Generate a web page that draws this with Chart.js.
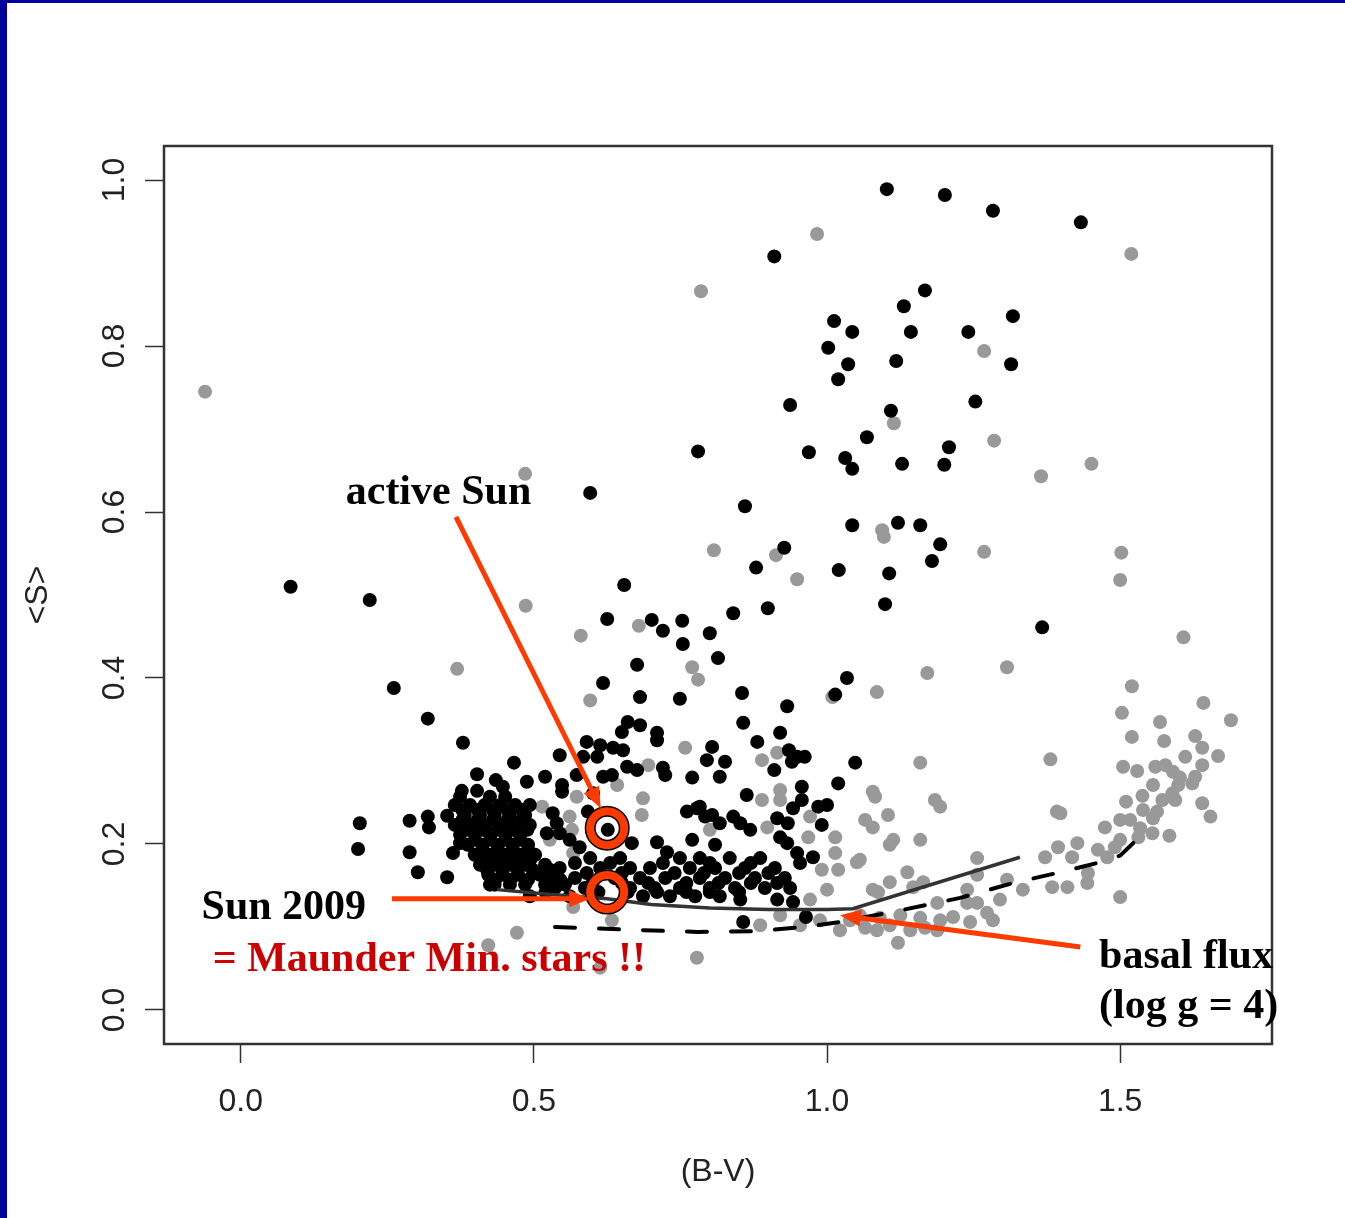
<!DOCTYPE html>
<html>
<head>
<meta charset="utf-8">
<script src="https://cdn.jsdelivr.net/npm/chart.js@4.4.0/dist/chart.umd.min.js"></script>
<style>
html, body { margin: 0; padding: 0; background: #fff; }
canvas { display: block; }
</style>
</head>
<body>
<canvas id="myChart" width="1345" height="1218"></canvas>
<script>
// ---- data: (B-V, <S>) ----
// active stars (black dots)
var activeStars = [
  [1.102,0.989],[1.201,0.982],[1.283,0.963],[1.433,0.949],[0.910,0.908],[1.167,0.867],[1.131,0.848],[1.317,0.836],
  [1.012,0.830],[1.043,0.817],[1.143,0.817],[1.241,0.817],[1.002,0.798],[1.314,0.778],[1.036,0.778],[1.118,0.782],
  [1.019,0.760],[0.937,0.729],[1.109,0.722],[1.253,0.733],[1.068,0.690],[0.780,0.673],[0.969,0.672],[1.031,0.665],
  [1.043,0.652],[1.128,0.658],[1.208,0.678],[1.200,0.657],[0.596,0.623],[0.860,0.607],[1.043,0.584],[1.121,0.587],
  [1.159,0.584],[1.193,0.561],[1.179,0.541],[0.927,0.557],[0.879,0.533],[1.020,0.530],[1.106,0.526],[0.654,0.512],
  [1.099,0.489],[0.625,0.471],[0.701,0.470],[0.753,0.469],[0.840,0.478],[0.899,0.484],[1.367,0.461],[0.085,0.510],
  [0.220,0.494],[0.720,0.457],[0.800,0.454],[0.754,0.441],[0.676,0.416],[0.814,0.424],[0.618,0.394],[0.681,0.377],
  [0.749,0.375],[0.855,0.382],[0.932,0.366],[1.014,0.380],[1.034,0.400],[0.261,0.388],[0.319,0.351],[0.379,0.322],
  [0.857,0.346],[0.920,0.334],[0.881,0.323],[0.804,0.317],[0.795,0.301],[0.826,0.299],[0.817,0.281],[0.935,0.313],
  [0.949,0.305],[0.962,0.305],[0.940,0.299],[0.910,0.289],[1.048,0.298],[1.019,0.273],[0.957,0.269],[0.863,0.259],
  [0.957,0.253],[0.942,0.243],[0.985,0.245],[1.000,0.247],[0.783,0.245],[0.804,0.235],[0.817,0.225],[0.840,0.233],
  [0.852,0.225],[0.869,0.217],[0.915,0.231],[0.933,0.225],[0.991,0.223],[0.920,0.208],[0.932,0.201],[0.976,0.184],
  [0.949,0.189],[0.954,0.177],[0.852,0.133],[0.915,0.133],[0.942,0.130],[0.857,0.106],[0.964,0.112],
  [0.660,0.347],[0.681,0.343],[0.650,0.335],[0.710,0.334],[0.710,0.325],[0.590,0.323],[0.613,0.319],[0.635,0.316],
  [0.584,0.305],[0.608,0.305],[0.652,0.313],[0.544,0.307],[0.659,0.293],[0.676,0.289],[0.720,0.292],[0.724,0.283],
  [0.519,0.281],[0.548,0.271],[0.548,0.263],[0.573,0.283],[0.618,0.281],[0.633,0.283],[0.770,0.280],[0.601,0.261],
  [0.592,0.239],[0.532,0.237],[0.539,0.225],[0.626,0.217],[0.761,0.239],[0.778,0.243],[0.792,0.233],[0.522,0.213],
  [0.544,0.213],[0.710,0.202],[0.727,0.190],[0.770,0.205],[0.667,0.201],[0.578,0.196],[0.561,0.205],[0.809,0.199],
  [0.466,0.298],[0.403,0.284],[0.435,0.277],[0.447,0.269],[0.488,0.275],[0.377,0.264],[0.403,0.264],[0.288,0.228],
  [0.319,0.233],[0.321,0.220],[0.352,0.234],[0.288,0.190],[0.302,0.166],[0.352,0.160],[0.374,0.201],[0.362,0.189],
  [0.425,0.151],[0.203,0.225],[0.200,0.194]
];
// dense clump of active stars around B-V 0.4-0.55
var activeClump = [
  [0.374,0.257],[0.425,0.257],[0.451,0.257],
  [0.365,0.247],[0.391,0.247],[0.416,0.247],[0.442,0.247],[0.468,0.247],[0.493,0.247],
  [0.378,0.241],[0.404,0.241],[0.430,0.241],[0.455,0.241],[0.480,0.241],
  [0.382,0.235],[0.408,0.235],[0.433,0.235],[0.459,0.235],[0.485,0.235],
  [0.378,0.229],[0.404,0.229],[0.430,0.229],[0.455,0.229],[0.480,0.229],
  [0.365,0.223],[0.391,0.223],[0.416,0.223],[0.442,0.223],[0.468,0.223],[0.493,0.223],
  [0.386,0.217],[0.412,0.217],[0.438,0.217],[0.463,0.217],[0.489,0.217],
  [0.374,0.211],[0.399,0.211],[0.425,0.211],[0.451,0.211],[0.476,0.211],
  [0.400,0.205],[0.426,0.205],[0.452,0.205],[0.477,0.205],
  [0.387,0.199],[0.413,0.199],[0.439,0.199],[0.464,0.199],[0.490,0.199],
  [0.412,0.193],[0.438,0.193],[0.464,0.193],[0.490,0.193],
  [0.399,0.187],[0.425,0.187],[0.451,0.187],[0.476,0.187],[0.502,0.187],
  [0.416,0.181],[0.442,0.181],[0.468,0.181],[0.494,0.181],
  [0.408,0.175],[0.433,0.175],[0.459,0.175],[0.485,0.175],[0.519,0.175],
  [0.420,0.169],[0.446,0.169],[0.472,0.169],[0.498,0.169],[0.527,0.169],
  [0.422,0.163],[0.447,0.163],[0.473,0.163],[0.510,0.163],[0.536,0.163],
  [0.434,0.157],[0.460,0.157],[0.490,0.157],[0.525,0.157],[0.545,0.157],
  [0.433,0.151],[0.459,0.151],[0.485,0.151],[0.519,0.151],[0.553,0.151]
];
// low-activity band of dwarfs, B-V 0.5-0.95
var activeBand = [
  [0.596,0.183],[0.647,0.183],[0.749,0.183],[0.783,0.183],[0.834,0.183],[0.886,0.183],
  [0.570,0.177],[0.630,0.177],[0.720,0.177],[0.800,0.177],[0.870,0.177],
  [0.544,0.171],[0.613,0.171],[0.664,0.171],[0.698,0.171],[0.766,0.171],[0.809,0.171],[0.860,0.171],[0.911,0.171],
  [0.590,0.165],[0.650,0.165],[0.740,0.165],[0.790,0.165],[0.850,0.165],[0.900,0.165],
  [0.570,0.159],[0.638,0.159],[0.681,0.159],[0.724,0.159],[0.783,0.159],[0.826,0.159],[0.877,0.159],[0.928,0.159],
  [0.600,0.153],[0.650,0.153],[0.695,0.153],[0.760,0.153],[0.815,0.153],[0.870,0.153],[0.915,0.153],
  [0.536,0.147],[0.587,0.147],[0.664,0.147],[0.706,0.147],[0.749,0.147],[0.800,0.147],[0.843,0.147],[0.894,0.147],[0.937,0.147],
  [0.520,0.142],[0.610,0.142],[0.660,0.142],[0.710,0.142],[0.760,0.142],[0.800,0.142],[0.850,0.142],
  [0.493,0.137],[0.561,0.137],[0.686,0.137],[0.732,0.137],[0.775,0.137],[0.817,0.137]
];
// other stars (grey dots)
var otherStars = [
  [-0.061,0.745],[0.983,0.935],[0.785,0.866],[1.519,0.911],[1.268,0.794],[1.114,0.707],[1.285,0.686],[1.451,0.658],
  [1.365,0.643],[0.485,0.646],[0.807,0.554],[0.913,0.548],[0.949,0.519],[1.094,0.578],[1.097,0.570],[1.268,0.552],
  [1.502,0.551],[1.500,0.518],[0.486,0.487],[0.580,0.451],[0.679,0.463],[0.369,0.411],[1.608,0.449],[1.307,0.413],
  [1.171,0.406],[1.085,0.383],[0.770,0.413],[0.780,0.398],[1.520,0.390],[1.503,0.358],[1.642,0.370],[1.689,0.349],
  [1.568,0.347],[1.520,0.329],[1.575,0.324],[1.628,0.330],[1.640,0.316],[1.381,0.302],[1.159,0.298],[1.611,0.305],
  [1.667,0.306],[0.596,0.373],[1.009,0.377],
  [1.505,0.293],[1.529,0.288],[1.560,0.293],[1.577,0.295],[1.590,0.287],[1.602,0.280],[1.599,0.271],[1.640,0.295],
  [1.628,0.281],[1.623,0.273],[1.556,0.271],[1.538,0.258],[1.589,0.261],[1.594,0.253],[1.572,0.253],[1.510,0.251],
  [1.640,0.249],[1.654,0.233],[1.539,0.241],[1.563,0.239],[1.556,0.231],[1.500,0.229],[1.517,0.229],[1.474,0.220],
  [1.534,0.219],[1.555,0.213],[1.531,0.208],[1.584,0.210],[1.398,0.237],[1.500,0.205],[1.491,0.196],[1.462,0.193],
  [1.478,0.184],[1.427,0.201],[1.394,0.196],[1.418,0.184],[1.372,0.184],[1.445,0.165],[1.444,0.153],[1.384,0.148],
  [1.410,0.148],[1.500,0.136],
  [1.082,0.257],[1.104,0.235],[1.184,0.253],[1.193,0.245],[1.065,0.229],[1.078,0.220],[1.113,0.205],[1.107,0.199],
  [1.159,0.205],[1.056,0.181],[1.392,0.239],[1.137,0.166],[1.107,0.154],[1.164,0.154],[1.256,0.183],[1.256,0.163],
  [1.087,0.142],[1.147,0.148],[1.239,0.145],[1.307,0.157],[1.334,0.145],[1.295,0.133],[1.239,0.129],[1.256,0.129],
  [1.273,0.117],[1.283,0.108],[1.244,0.106],[1.121,0.081],[1.085,0.096],[1.142,0.096],[1.188,0.096],[1.215,0.112],
  [1.188,0.129],[1.056,0.114],[1.090,0.111],[1.125,0.114],[1.159,0.111],[1.193,0.108],[1.065,0.099],[1.107,0.102],
  [1.167,0.099],[1.039,0.108],[1.022,0.096],
  [0.889,0.301],[0.915,0.310],[0.889,0.253],[0.920,0.265],[0.920,0.253],[0.971,0.233],[0.898,0.220],[1.014,0.208],
  [0.968,0.208],[1.014,0.189],[1.019,0.169],[1.051,0.178],[0.991,0.169],[1.000,0.145],[0.971,0.133],[1.078,0.145],
  [0.920,0.114],[0.954,0.102],[0.988,0.108],[0.886,0.102],[0.758,0.316],[0.695,0.295],[0.642,0.271],[0.573,0.257],
  [0.686,0.255],[0.684,0.235],[0.514,0.245],[0.561,0.233],[0.565,0.217],[0.800,0.217],[0.567,0.189],[0.498,0.165],
  [0.527,0.205],[0.633,0.108],[0.567,0.124],[0.471,0.093],[0.422,0.078],[0.778,0.063],[0.613,0.051],[1.078,0.263]
];
// basal flux curves
var basalSolid = [[0.437,0.145],[0.530,0.139],[0.625,0.134],[0.700,0.127],[0.800,0.123],[0.900,0.121],[1.000,0.121],[1.044,0.122],[1.329,0.184]];
var basalDashed = [[0.536,0.100],[0.650,0.097],[0.780,0.094],[0.880,0.095],[0.960,0.100],[1.022,0.106],[1.125,0.120],[1.227,0.135],[1.312,0.152],[1.398,0.166],[1.466,0.178],[1.500,0.186],[1.531,0.207]];
// the Sun: active phase and 2009 minimum
var sunPoints = [[0.625,0.219],[0.625,0.142]];

var xTickValues = [0, 0.5, 1.0, 1.5];
var xTickLabels = ['0.0', '0.5', '1.0', '1.5'];
var yTickValues = [0, 0.2, 0.4, 0.6, 0.8, 1.0];
var yTickLabels = ['0.0', '0.2', '0.4', '0.6', '0.8', '1.0'];

function toXY(arr) {
  return arr.map(function(p) { return { x: p[0], y: p[1] }; });
}

var ARROW_RED = '#ff3a00';
var TEXT_RED = '#cc0000';
var AXIS_FONT = "32px 'Liberation Sans', Arial, sans-serif";
var NOTE_FONT = "bold 42px 'Liberation Serif', 'Times New Roman', serif";

// annotation layout (in data units)
var notes = [
  { text: 'active Sun', x: 0.179, y: 0.610, color: '#000' },
  { text: 'Sun 2009', x: -0.067, y: 0.110, color: '#000' },
  { text: '= Maunder Min. stars !!', x: -0.048, y: 0.047, color: TEXT_RED },
  { text: 'basal flux', x: 1.464, y: 0.051, color: '#000' },
  { text: '(log g = 4)', x: 1.464, y: -0.010, color: '#000' }
];
var arrows = [
  { from: [0.367, 0.594], to: [0.614, 0.243] },
  { from: [0.258, 0.134], to: [0.596, 0.134] },
  { from: [1.432, 0.076], to: [1.022, 0.114] }
];

function drawArrow(ctx, x1, y1, x2, y2) {
  var ang = Math.atan2(y2 - y1, x2 - x1);
  var hl = 21, hw = 8.5;
  var c = Math.cos(ang), s = Math.sin(ang);
  ctx.strokeStyle = ARROW_RED;
  ctx.fillStyle = ARROW_RED;
  ctx.lineWidth = 5;
  ctx.beginPath();
  ctx.moveTo(x1, y1);
  ctx.lineTo(x2 - hl * 0.8 * c, y2 - hl * 0.8 * s);
  ctx.stroke();
  ctx.beginPath();
  ctx.moveTo(x2, y2);
  ctx.lineTo(x2 - hl * c + hw * s, y2 - hl * s - hw * c);
  ctx.lineTo(x2 - hl * c - hw * s, y2 - hl * s + hw * c);
  ctx.closePath();
  ctx.fill();
}

var decor = {
  id: 'decor',
  beforeDraw: function(chart) {
    var ctx = chart.ctx;
    ctx.save();
    ctx.fillStyle = '#fff';
    ctx.fillRect(0, 0, chart.width, chart.height);
    // slide frame
    ctx.fillStyle = '#00009c';
    ctx.fillRect(0, 0, chart.width, 3);
    ctx.fillRect(0, 0, 7, chart.height);
    ctx.restore();
  },
  afterDraw: function(chart) {
    var ctx = chart.ctx;
    var a = chart.chartArea;
    var xs = chart.scales.x, ys = chart.scales.y;
    ctx.save();
    // plot box
    ctx.strokeStyle = '#333';
    ctx.lineWidth = 2.5;
    ctx.strokeRect(a.left, a.top, a.right - a.left, a.bottom - a.top);

    // tick labels
    ctx.fillStyle = '#222';
    ctx.font = AXIS_FONT;
    ctx.textAlign = 'center';
    ctx.textBaseline = 'alphabetic';
    xTickValues.forEach(function(v, i) {
      ctx.fillText(xTickLabels[i], xs.getPixelForValue(v), 1111);
    });
    yTickValues.forEach(function(v, i) {
      ctx.save();
      ctx.translate(112, ys.getPixelForValue(v));
      ctx.rotate(-Math.PI / 2);
      ctx.fillText(yTickLabels[i], 0, 11.5);
      ctx.restore();
    });
    // axis titles
    ctx.fillText('(B-V)', (a.left + a.right) / 2, 1181);
    ctx.save();
    ctx.translate(35, (a.top + a.bottom) / 2);
    ctx.rotate(-Math.PI / 2);
    ctx.fillText('<S>', 0, 11.5);
    ctx.restore();

    // arrows
    arrows.forEach(function(ar) {
      drawArrow(ctx,
        xs.getPixelForValue(ar.from[0]), ys.getPixelForValue(ar.from[1]),
        xs.getPixelForValue(ar.to[0]), ys.getPixelForValue(ar.to[1]));
    });

    // notes
    ctx.font = NOTE_FONT;
    ctx.textAlign = 'left';
    notes.forEach(function(n) {
      ctx.fillStyle = n.color;
      ctx.fillText(n.text, xs.getPixelForValue(n.x), ys.getPixelForValue(n.y));
    });
    ctx.restore();
  }
};

var ctx = document.getElementById('myChart');

var data = {
  datasets: [
    {
      label: 'Sun ring',
      data: toXY(sunPoints),
      pointRadius: 17,
      pointBorderWidth: 8,
      pointBorderColor: ARROW_RED,
      pointBackgroundColor: 'rgba(0,0,0,0)',
      order: -2
    },
    {
      label: 'Sun ring outline',
      data: toXY(sunPoints),
      pointRadius: 17,
      pointBorderWidth: 11,
      pointBorderColor: '#000',
      pointBackgroundColor: 'rgba(0,0,0,0)',
      order: -1
    },
    {
      label: 'basal (solid)',
      data: toXY(basalSolid),
      showLine: true,
      borderColor: '#333',
      borderWidth: 3.5,
      pointRadius: 0,
      order: 0
    },
    {
      label: 'basal (dashed)',
      data: toXY(basalDashed),
      showLine: true,
      borderColor: '#000',
      borderWidth: 4,
      borderDash: [20, 24],
      borderCapStyle: 'round',
      pointRadius: 0,
      order: 0
    },
    {
      label: 'active',
      data: toXY(activeStars.concat(activeClump, activeBand)),
      pointRadius: 7,
      pointBorderWidth: 0,
      pointBackgroundColor: '#000',
      order: 1
    },
    {
      label: 'other',
      data: toXY(otherStars),
      pointRadius: 7,
      pointBorderWidth: 0,
      pointBackgroundColor: '#999',
      order: 2
    }
  ]
};

var options = {
  responsive: false,
  animation: false,
  events: [],
  layout: { padding: { top: 146, right: 73, bottom: 0, left: 0 } },
  plugins: {
    legend: { display: false },
    tooltip: { enabled: false }
  },
  scales: {
    x: {
      type: 'linear',
      min: -0.131,
      max: 1.759,
      afterBuildTicks: function(s) { s.ticks = xTickValues.map(function(v) { return { value: v }; }); },
      afterFit: function(s) { s.height = 174; },
      ticks: { display: false },
      grid: { drawOnChartArea: false, drawTicks: true, tickLength: 19, tickColor: '#333', tickWidth: 1.5 },
      border: { display: false }
    },
    y: {
      type: 'linear',
      min: -0.041,
      max: 1.041,
      afterBuildTicks: function(s) { s.ticks = yTickValues.map(function(v) { return { value: v }; }); },
      afterFit: function(s) { s.width = 164; },
      ticks: { display: false },
      grid: { drawOnChartArea: false, drawTicks: true, tickLength: 19, tickColor: '#333', tickWidth: 1.5 },
      border: { display: false }
    }
  }
};

var mychart = new Chart(ctx, {
  type: 'scatter',
  data: data,
  options: options,
  plugins: [decor]
});
</script>
</body>
</html>
